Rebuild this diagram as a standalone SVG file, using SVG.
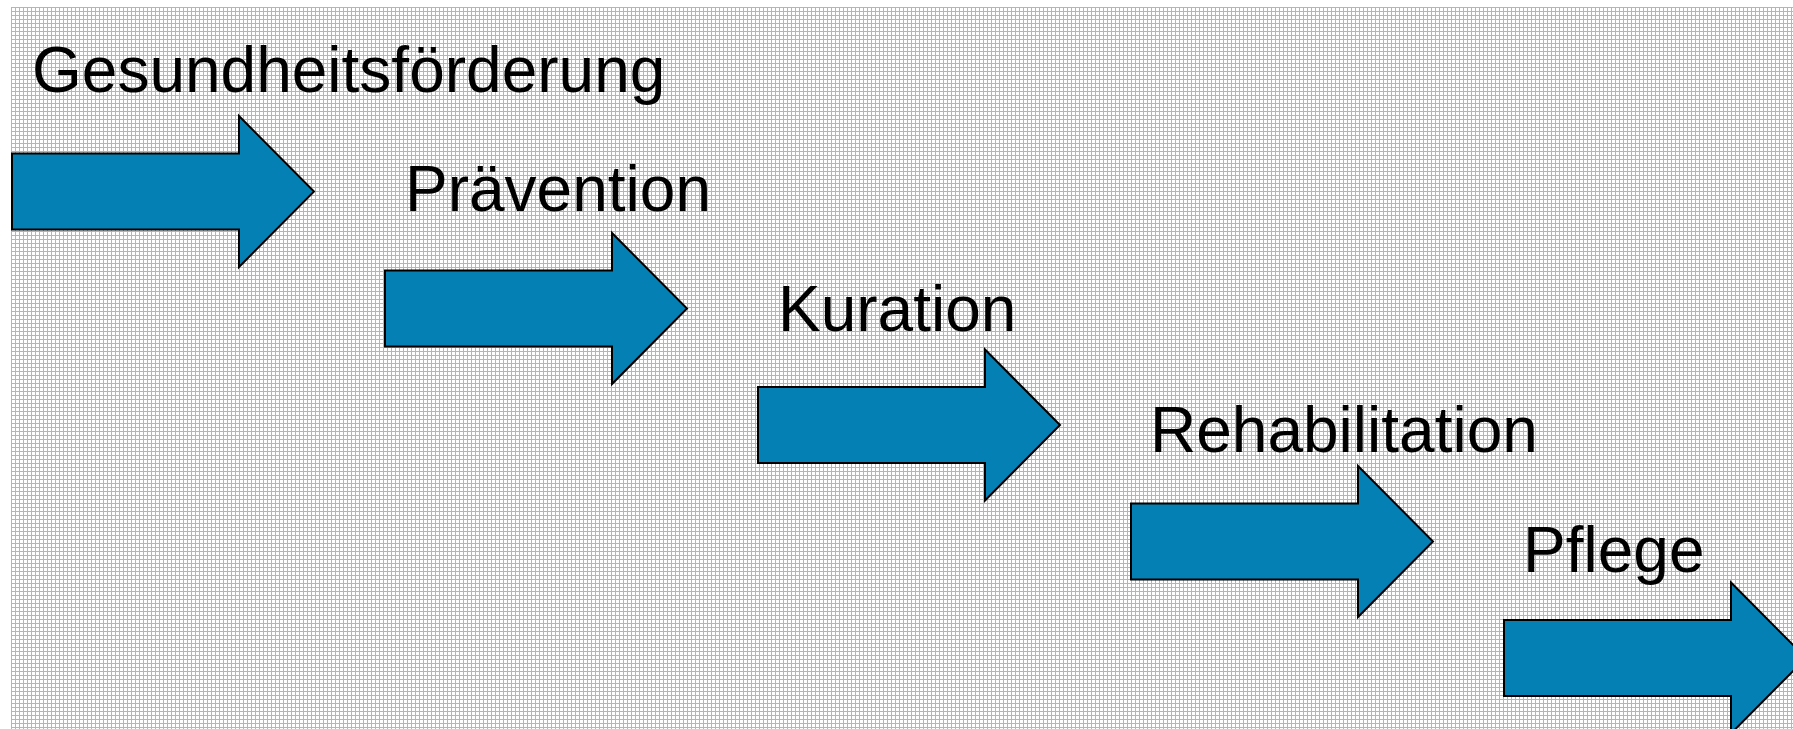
<svg xmlns="http://www.w3.org/2000/svg" width="1793" height="729" viewBox="0 0 1793 729">
  <style>
    .arrow { fill: #0580b5; stroke: #000000; stroke-width: 2; stroke-linejoin: miter; }
    .label { font-family: "Liberation Sans", Arial, sans-serif; font-size: 64px; fill: #000000; }
  </style>
  <defs>
    <pattern id="grid" x="11" y="7" width="4" height="4" patternUnits="userSpaceOnUse">
      <rect width="4" height="4" fill="#ffffff"/>
      <rect x="0" y="0" width="4" height="1" fill="#8dc1dc"/>
      <rect x="0" y="0" width="1" height="4" fill="#8dc1dc"/>
    </pattern>
    <path id="arrowShape" d="M0,-38 H227 V-75.5 L302,0 L227,75.5 V38 H0 Z"/>
  </defs>
  <rect x="0" y="0" width="1793" height="729" fill="#ffffff"/>
  <rect x="11" y="7" width="1782" height="722" fill="url(#grid)"/>

  <g id="connectors"></g>

  <g id="node-gesundheitsfoerderung">
    <text class="label" x="32" y="92">Gesundheitsförderung</text>
    <use href="#arrowShape" class="arrow" transform="translate(12,191.5)"/>
  </g>
  <g id="node-praevention">
    <text class="label" x="405" y="211">Prävention</text>
    <use href="#arrowShape" class="arrow" transform="translate(385,308.5)"/>
  </g>
  <g id="node-kuration">
    <text class="label" x="778" y="331">Kuration</text>
    <use href="#arrowShape" class="arrow" transform="translate(758,425)"/>
  </g>
  <g id="node-rehabilitation">
    <text class="label" x="1150" y="451.5">Rehabilitation</text>
    <use href="#arrowShape" class="arrow" transform="translate(1131,541.5)"/>
  </g>
  <g id="node-pflege">
    <text class="label" x="1523" y="571.5">Pflege</text>
    <use href="#arrowShape" class="arrow" transform="translate(1504,658)"/>
  </g>
</svg>
